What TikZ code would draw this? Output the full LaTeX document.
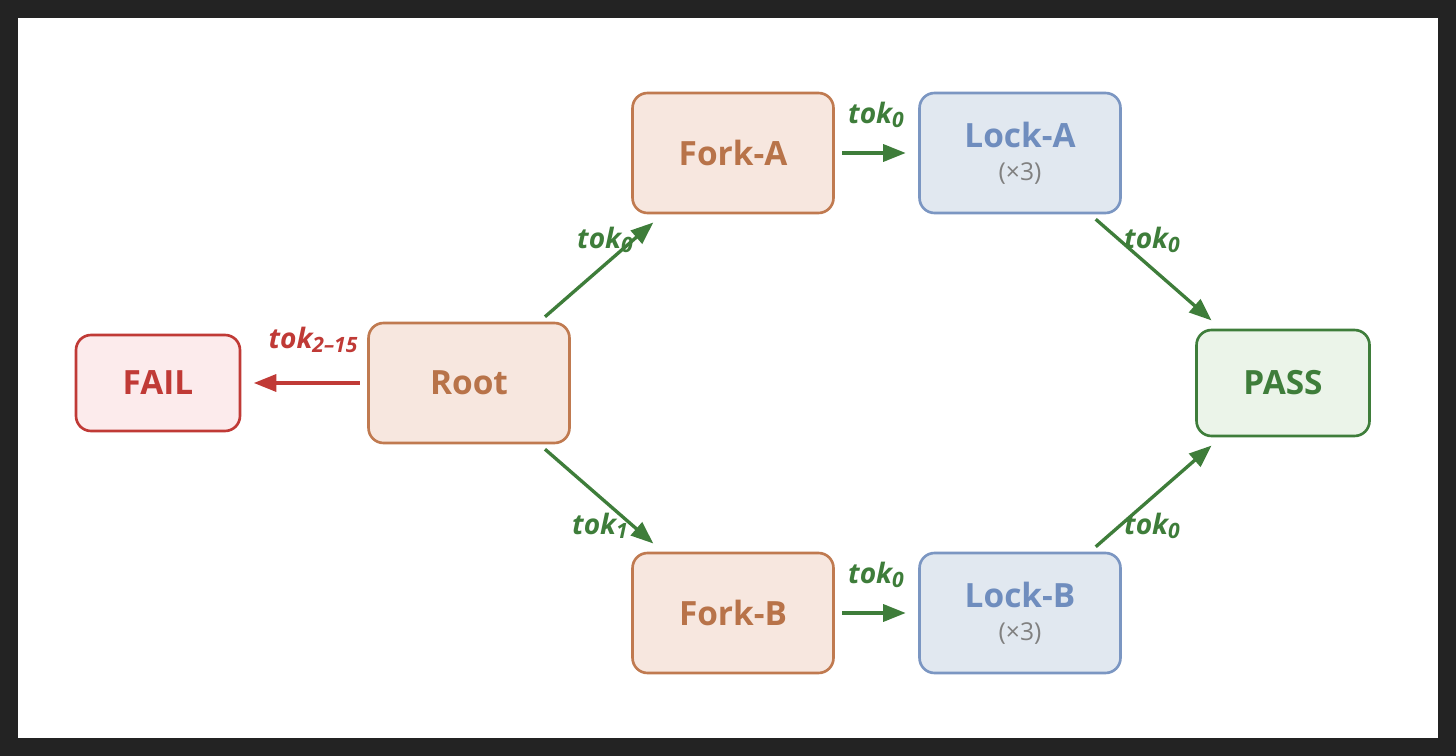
\documentclass[tikz,border=0pt]{standalone}
\usepackage{fontspec}
\setmainfont{Open Sans}
\usetikzlibrary{arrows.meta}
\definecolor{oS}{HTML}{C07A50}\definecolor{oF}{HTML}{F7E7DF}\definecolor{oT}{HTML}{B87349}
\definecolor{bS}{HTML}{7B96C2}\definecolor{bF}{HTML}{E1E8F0}\definecolor{bT}{HTML}{6F8DBE}
\definecolor{gS}{HTML}{3E7D3A}\definecolor{gF}{HTML}{EBF4E9}
\definecolor{rS}{HTML}{C03A36}\definecolor{rF}{HTML}{FCEBEC}
\definecolor{frame}{HTML}{232323}
\newcommand\tk[1]{tok\raisebox{-0.3ex}{\fontsize{12}{14}\selectfont #1}}
\begin{document}
\begin{tikzpicture}[x=0.02cm,y=-0.02cm,
 box/.style={draw,rounded corners=0.3cm,line width=1.5pt,minimum width=4.02cm,minimum height=2.4cm,align=center,font=\fontsize{19}{21}\selectfont\bfseries},
 orange/.style={box,draw=oS,fill=oF,text=oT},
 blue/.style={box,draw=bS,fill=bF,text=bT},
 arr/.style={line width=1.9pt,-{Triangle[length=0.45cm,width=0.34cm]},shorten <=0.15cm,shorten >=0.25cm},
 lab/.style={font=\fontsize{16}{18}\selectfont\bfseries\itshape}]
\fill[frame] (0,0) rectangle (1456,756);
\fill[white] (18,18) rectangle (1438,738);
\node[orange] (root) at (469,383) {Root};
\node[orange] (fa) at (733,153) {Fork-A};
\node[orange] (fb) at (733,613) {Fork-B};
\node[blue] (la) at (1020,153) {Lock-A\\[-2pt]{\fontsize{14}{16}\mdseries\color{gray}(×3)}};
\node[blue] (lb) at (1020,613) {Lock-B\\[-2pt]{\fontsize{14}{16}\mdseries\color{gray}(×3)}};
\node[box,draw=rS,fill=rF,text=rS,minimum width=3.28cm,minimum height=1.92cm] (fail) at (158,383) {FAIL};
\node[box,draw=gS,fill=gF,text=gS,minimum width=3.46cm,minimum height=2.12cm] (pass) at (1283,383) {PASS};
\draw[arr,rS] (root) -- (fail);
\draw[arr,gS] (root) -- (fa);
\draw[arr,gS] (root) -- (fb);
\draw[arr,gS] (fa) -- (la);
\draw[arr,gS] (fb) -- (lb);
\draw[arr,gS] (la) -- (pass);
\draw[arr,gS] (lb) -- (pass);
\node[lab,rS] (l0) at (313,340) {\tk{2–15}};
\node[lab,gS] (l1) at (605,240) {\tk{0}};
\node[lab,gS] (l2) at (600,526) {\tk{1}};
\node[lab,gS] (l3) at (876,115) {\tk{0}};
\node[lab,gS] (l4) at (876,575) {\tk{0}};
\node[lab,gS] (l5) at (1152,240) {\tk{0}};
\node[lab,gS] (l6) at (1152,526) {\tk{0}};
\end{tikzpicture}
\end{document}
